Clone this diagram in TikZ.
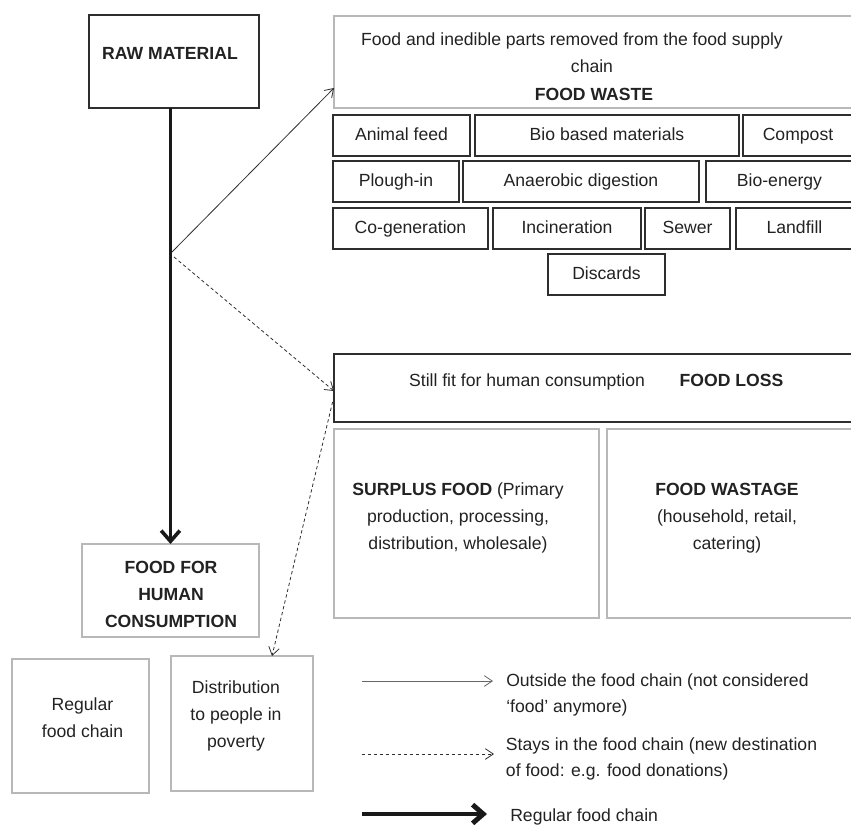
\documentclass[tikz,border=0pt]{standalone}
\usepackage{fontspec}
\setmainfont{Liberation Sans}
\usetikzlibrary{arrows.meta}
\definecolor{dk}{HTML}{2E2E2E}
\definecolor{lg}{HTML}{B8B8B8}
\definecolor{tx}{HTML}{222222}
\newcommand\fs{\fontsize{13.2}{20.25}\selectfont}
\newcommand\fsl{\fontsize{13.2}{19.5}\selectfont}
\begin{document}
\begin{tikzpicture}[x=0.75pt,y=-0.75pt,
  font=\fs, text=tx,
  bx/.style={draw, inner sep=0pt, outer sep=0pt, anchor=north west, align=center},
  dbox/.style={bx, draw=dk, line width=1.5pt},
  lbox/.style={bx, draw=lg, line width=1.4pt},
  cell/.style={dbox, minimum height=41*0.75pt, text height=0.72em, text depth=0pt},
  txt/.style={inner sep=0pt, align=center},
  btxt/.style={txt, font=\fs\bfseries},
  thinarr/.style={draw=dk, line width=0.6pt, -{Straight Barb[length=6pt,width=8pt]}},
  dasharr/.style={thinarr, dash pattern=on 2.5pt off 2pt},
  bigarr/.style={draw=black!90, line width=2.7pt, -{Straight Barb[length=8pt,width=14pt]}},
]
\useasboundingbox (0,0) rectangle (851,826);

% RAW MATERIAL
\node[dbox, minimum width=170*0.75pt, minimum height=93*0.75pt] (raw) at (89,15) {};
\node[btxt] (rawt) at (170,53.7) {RAW MATERIAL};

% FOOD WASTE
\node[lbox, minimum width=519*0.75pt, minimum height=92*0.75pt] (fw) at (334,16) {};
\node[anchor=base, inner sep=0pt] (fwt1) at (572,45.7) {Food and inedible parts removed from the food supply};
\node[anchor=base, inner sep=0pt] (fwt2) at (592,72.3) {chain};
\node[anchor=base, inner sep=0pt, font=\fs\bfseries] (fwt3) at (594,100) {FOOD WASTE};

% grid
\node[cell, minimum width=137*0.75pt] (af) at (333,115) {Animal feed};
\node[cell, minimum width=264*0.75pt] (bb) at (475,115) {Bio based materials};
\node[cell, minimum width=110*0.75pt] (co) at (743,115) {Compost};
\node[cell, minimum width=126*0.75pt] (pl) at (333,161) {Plough-in};
\node[cell, minimum width=236*0.75pt] (an) at (463,161) {Anaerobic digestion};
\node[cell, minimum width=147*0.75pt] (be) at (706,161) {Bio-energy};
\node[cell, minimum width=155*0.75pt] (cg) at (333,208) {Co-generation};
\node[cell, minimum width=148*0.75pt] (in) at (493,208) {Incineration};
\node[cell, minimum width=85*0.75pt] (se) at (645,208) {Sewer};
\node[cell, minimum width=117*0.75pt] (lf) at (736,208) {Landfill};
\node[cell, minimum width=117*0.75pt] (di) at (548,254) {Discards};

% FOOD LOSS
\node[dbox, minimum width=519*0.75pt, minimum height=68*0.75pt] (fl) at (334,354) {};
\node[anchor=base, inner sep=0pt] (flt1) at (527,386.7) {Still fit for human consumption};
\node[anchor=base, inner sep=0pt, font=\fs\bfseries] (flt2) at (731.5,386.7) {FOOD LOSS};

\node[lbox, minimum width=265*0.75pt, minimum height=189*0.75pt] (sp) at (334,429) {};
\node[txt] (spt) at (458,518) {\textbf{SURPLUS FOOD} (Primary\\production, processing,\\distribution, wholesale)};
\node[lbox, minimum width=246*0.75pt, minimum height=189*0.75pt] (ws) at (607,429) {};
\node[txt] (wst) at (727,518) {\textbf{FOOD WASTAGE}\\(household, retail,\\catering)};

% left column
\node[lbox, minimum width=177*0.75pt, minimum height=93*0.75pt] (ffh) at (82,544) {};
\node[btxt] (ffht) at (171,594) {FOOD FOR\\HUMAN\\CONSUMPTION};
\node[lbox, minimum width=137*0.75pt, minimum height=134*0.75pt] (rg) at (12,659) {};
\node[txt] (rgt) at (82.5,717.6) {Regular\\food chain};
\node[lbox, minimum width=142*0.75pt, minimum height=135*0.75pt] (ds) at (171,656) {};
\node[txt] (dst) at (236,716.4) {Distribution\\to people in\\poverty};

% connectors
\draw[bigarr] (ffh.north |- raw.south) -- (ffh.north);
\coordinate (j1) at (172,252);
\coordinate (j2) at (174,257);
\coordinate (fwin) at (334,88);
\coordinate (flin) at (334,391);
\coordinate (flout) at (334,396);
\coordinate (dsin) at (272,656);
\draw[thinarr] (j1) -- (fwin);
\draw[dasharr] (j2) -- (flin);
\draw[dasharr] (flout) -- (dsin);

% legend
\coordinate (la1) at (362,681); \coordinate (lb1) at (493,681);
\draw[thinarr, draw=black!60] (la1) -- (lb1);
\node[txt, anchor=west, align=left, font=\fsl] (lt1) at (506,695) {Outside the food chain (not considered\\‘food’ anymore)};
\coordinate (la2) at (362,754); \coordinate (lb2) at (494,754);
\draw[dasharr] (la2) -- (lb2);
\node[txt, anchor=west, align=left, font=\fsl] (lt2) at (505.7,758.8) {Stays in the food chain (new destination\\of food: e.g. food donations)};
\coordinate (la3) at (362,814); \coordinate (lb3) at (487,814);
\draw[bigarr, line width=3.7pt] (la3) -- (lb3);
\node[anchor=base west, inner sep=0pt] (lt3) at (510,821.5) {Regular food chain};
\end{tikzpicture}
\end{document}
